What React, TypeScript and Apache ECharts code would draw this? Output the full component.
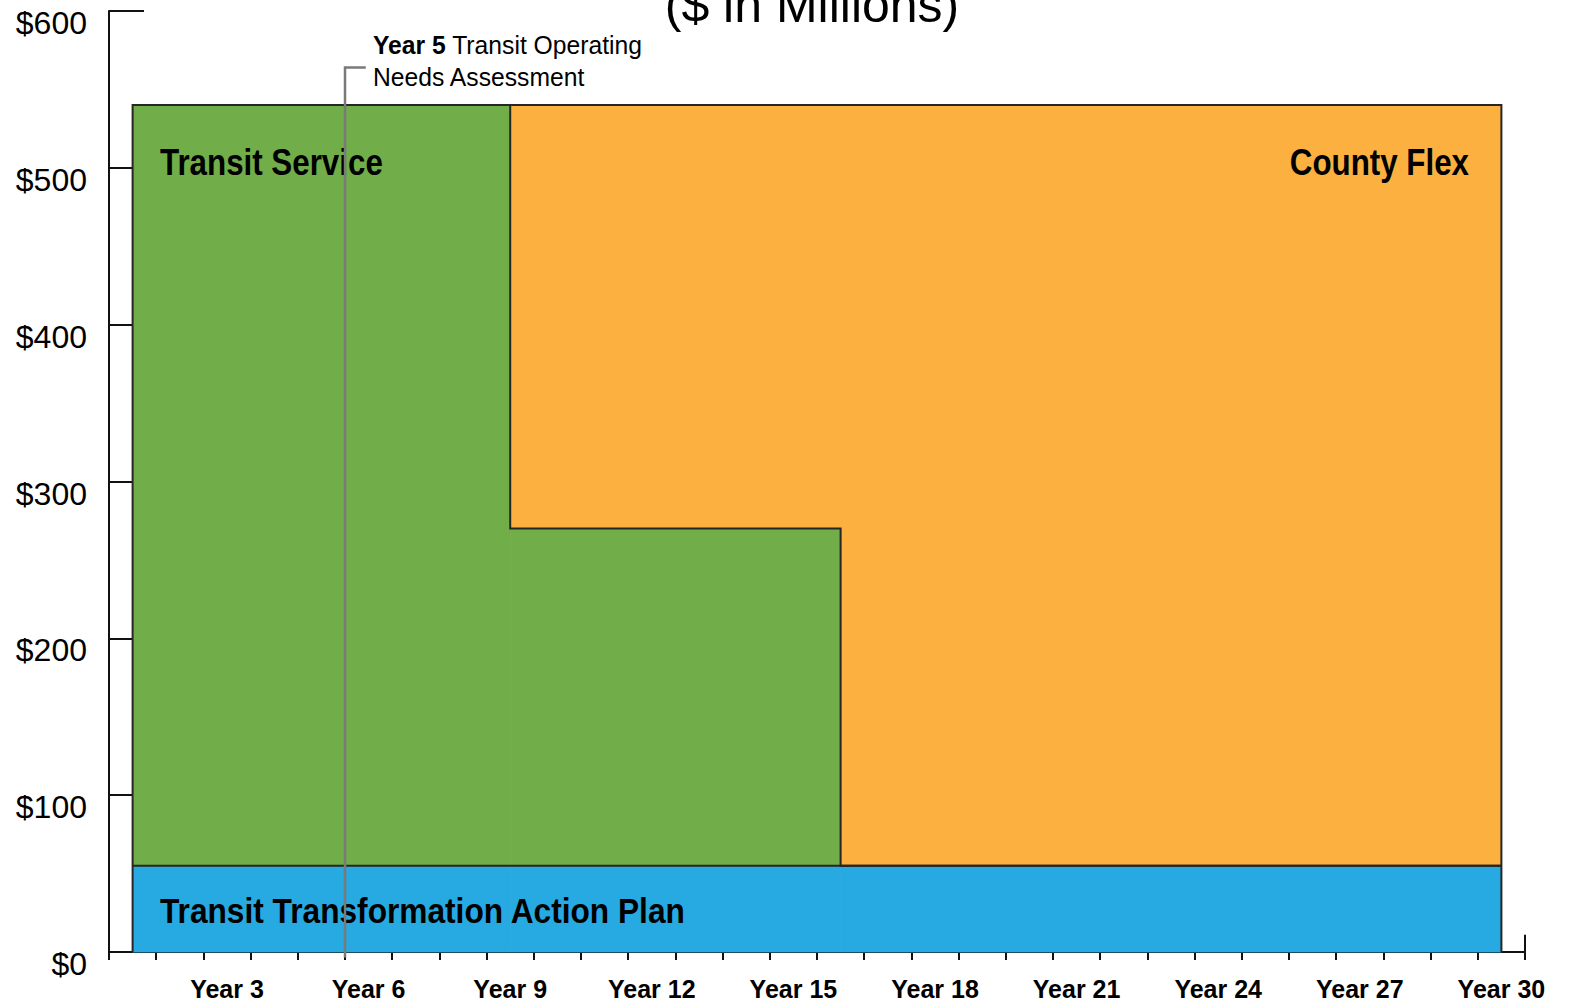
import React, { useEffect, useRef } from "react";
import * as echarts from "echarts";

// Categories (x axis)
const yearLabels = Array.from({ length: 30 }, (_, i) => `Year ${i + 1}`);
// Segment boundaries on the year scale (band centre of Year 1, Year 9, Year 16, Year 30)
const stepYears = [0.5, 8.5, 15.5, 29.5];
// Cumulative top of each layer, one value per segment ($ millions)
const actionPlanTop = [55, 55, 55];
const transitServiceTop = [540, 270, 55];
const countyFlexTop = [540, 540, 540];
const assessmentYear = 5;
const yMax = 600;
const yStep = 100;

const FONT = "'Liberation Sans', Arial, Helvetica, sans-serif";
const EDGE = "#262626";

type Seg = [number, number, number, number];

function segments(low: number[], high: number[]): Seg[] {
  const out: Seg[] = [];
  for (let i = 0; i < stepYears.length - 1; i++) {
    if (high[i] > low[i]) out.push([stepYears[i], stepYears[i + 1], low[i], high[i]]);
  }
  return out;
}

function stepLine(tops: number[]): number[][] {
  const pts: number[][] = [];
  for (let i = 0; i < tops.length; i++) {
    pts.push([stepYears[i], tops[i]], [stepYears[i + 1], tops[i]]);
  }
  return pts;
}

function fillSeries(name: string, data: Seg[], color: string) {
  return {
    name,
    type: "custom",
    xAxisIndex: 1,
    z: 2,
    encode: { x: [0, 1], y: [2, 3] },
    data,
    renderItem: (_p: any, api: any) => {
      const a = api.coord([api.value(0), api.value(3)]);
      const b = api.coord([api.value(1), api.value(2)]);
      return {
        type: "rect",
        shape: { x: a[0], y: a[1], width: b[0] - a[0], height: b[1] - a[1] },
        style: { fill: color, stroke: color, lineWidth: 0.8 },
      };
    },
  };
}

function outline(name: string, data: number[][], color = EDGE, width = 2, z = 3) {
  return {
    name,
    type: "line",
    xAxisIndex: 1,
    z,
    clip: false,
    data,
    showSymbol: false,
    symbol: "none",
    lineStyle: { color, width, join: "miter" },
  };
}

export default function App() {
  const ref = useRef<HTMLDivElement>(null);
  useEffect(() => {
    document.body.style.margin = "0";
    const chart = echarts.init(ref.current!, null, { renderer: "svg" });
    const zeros = actionPlanTop.map(() => 0);
    const last = stepYears.length - 1;
    const frame = [
      [stepYears[0], 0],
      ...stepLine(countyFlexTop),
      [stepYears[last], 0],
    ];
    chart.setOption({
      animation: false,
      grid: { left: 109, right: 45, top: 11, bottom: 53, outerBoundsMode: "none", containLabel: false },
      xAxis: [
        {
          type: "category",
          data: yearLabels,
          boundaryGap: true,
          axisLine: { show: true, lineStyle: { color: "#111", width: 2 } },
          axisTick: { show: true, interval: 0, length: 8, lineStyle: { color: "#111", width: 2 } },
          axisLabel: {
            interval: (i: number) => i % 3 === 2,
            fontFamily: FONT,
            fontWeight: "bold",
            fontSize: 25,
            color: "#000",
            margin: 24,
          },
          splitLine: { show: false },
        },
        { type: "value", min: 0, max: 30, show: false },
      ],
      yAxis: {
        type: "value",
        min: 0,
        max: yMax,
        interval: yStep,
        axisLine: { show: true, lineStyle: { color: "#111", width: 2 } },
        axisTick: { show: true, inside: true, length: 35, lineStyle: { color: "#111", width: 2 } },
        axisLabel: {
          formatter: (v: number) => `$${v}`,
          fontFamily: FONT,
          fontSize: 32,
          color: "#000",
          margin: 22,
          verticalAlign: "top",
          lineHeight: 24,
        },
        splitLine: { show: false },
      },
      series: [
        fillSeries("Transit Transformation Action Plan", segments(zeros, actionPlanTop), "#27AAE1"),
        fillSeries("Transit Service", segments(actionPlanTop, transitServiceTop), "#71AD48"),
        fillSeries("County Flex", segments(transitServiceTop, countyFlexTop), "#FBB040"),
        outline("Action plan edge", stepLine(actionPlanTop)),
        outline("Transit service edge", stepLine(transitServiceTop)),
        outline("Frame", frame),
        outline("Axis end", [[30, 0], [30, 11]], "#111", 2, 3),
        outline(
          "Assessment",
          [
            [assessmentYear + 0.44, 564],
            [assessmentYear, 564],
            [assessmentYear, -3.5],
          ],
          "#7a7a7a",
          2.5,
          20
        ),
      ],
      graphic: [
        {
          type: "text",
          x: 812,
          y: 30,
          style: {
            text: "($ in Millions)",
            fontFamily: FONT,
            fontSize: 50,
            fill: "#000",
            align: "center",
            verticalAlign: "bottom",
          },
        },
        {
          type: "text",
          x: 373,
          y: 29,
          z: 10,
          scaleX: 0.95,
          style: {
            text: "{b|Year 5} Transit Operating\nNeeds Assessment",
            fontFamily: FONT,
            fontSize: 26,
            lineHeight: 32,
            fill: "#000",
            verticalAlign: "top",
            rich: {
              b: { fontFamily: FONT, fontSize: 26, fontWeight: "bold", fill: "#000", lineHeight: 32 },
            },
          },
        },
        {
          type: "text",
          x: 160,
          y: 162,
          z: 10,
          scaleX: 0.87,
          style: {
            text: "Transit Service",
            fontFamily: FONT,
            fontWeight: "bold",
            fontSize: 36,
            fill: "#000",
            verticalAlign: "middle",
          },
        },
        {
          type: "text",
          x: 1469,
          y: 162,
          z: 10,
          scaleX: 0.87,
          style: {
            text: "County Flex",
            fontFamily: FONT,
            fontWeight: "bold",
            fontSize: 36,
            fill: "#000",
            align: "right",
            verticalAlign: "middle",
          },
        },
        {
          type: "text",
          x: 160,
          y: 910,
          z: 10,
          scaleX: 0.88,
          style: {
            text: "Transit Transformation Action Plan",
            fontFamily: FONT,
            fontWeight: "bold",
            fontSize: 36,
            fill: "#000",
            verticalAlign: "middle",
          },
        },
      ],
    });
    return () => chart.dispose();
  }, []);
  return (
    <div
      ref={ref}
      style={{ position: "absolute", left: 0, top: 0, width: 1570, height: 1005, background: "#fff" }}
    />
  );
}
